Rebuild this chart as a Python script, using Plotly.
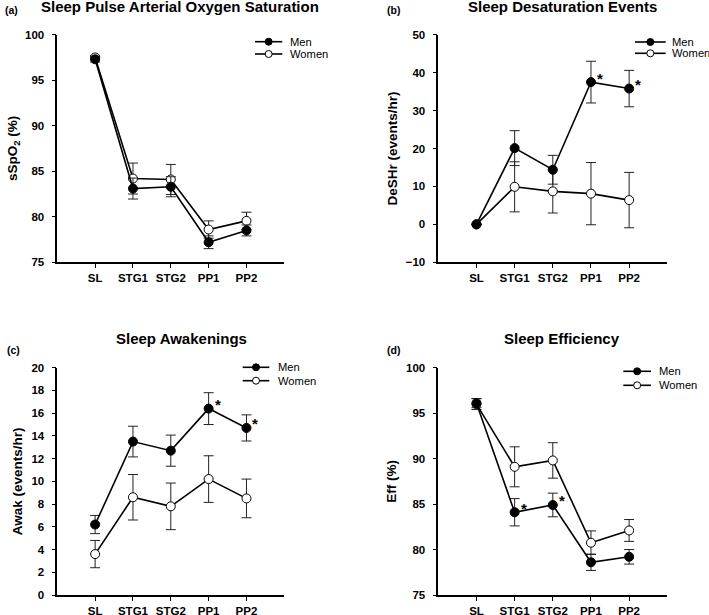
import plotly.graph_objects as go

W, H = 709, 615

stages = ["SL", "STG1", "STG2", "PP1", "PP2"]

# (a) Sleep pulse arterial oxygen saturation (%)
spo2_men = [97.3, 83.1, 83.3, 77.2, 78.5]
spo2_men_se = [0.3, 1.15, 1.1, 0.7, 0.6]
spo2_women = [97.5, 84.2, 84.1, 78.6, 79.55]
spo2_women_se = [0.2, 1.7, 1.65, 0.95, 0.95]
spo2_sig = []

# (b) Sleep desaturation events (events/hr)
deshr_men = [0.0, 20.1, 14.4, 37.5, 35.8]
deshr_men_se = [0.0, 4.6, 3.8, 5.5, 4.8]
deshr_women = [0.0, 9.9, 8.7, 8.1, 6.4]
deshr_women_se = [0.0, 6.6, 5.7, 8.2, 7.3]
deshr_sig = ["PP1", "PP2"]

# (c) Sleep awakenings (events/hr)
awak_men = [6.2, 13.5, 12.7, 16.4, 14.7]
awak_men_se = [0.8, 1.35, 1.37, 1.4, 1.15]
awak_women = [3.6, 8.6, 7.8, 10.2, 8.5]
awak_women_se = [1.2, 2.0, 2.05, 2.05, 1.7]
awak_sig = ["PP1", "PP2"]

# (d) Sleep efficiency (%)
eff_men = [96.1, 84.1, 84.9, 78.6, 79.2]
eff_men_se = [0.5, 1.5, 1.3, 0.9, 0.8]
eff_women = [96.0, 89.1, 89.8, 80.75, 82.1]
eff_women_se = [0.6, 2.2, 1.95, 1.3, 1.2]
eff_sig = ["STG1", "STG2"]

FONT = "Liberation Sans, Arial, sans-serif"


def px(x):
    return x / W


def py(y):
    return 1 - y / H


panels = [
    dict(label="(a)", title="Sleep Pulse Arterial Oxygen Saturation",
         ytitle="sSpO<sub>2</sub> (%)", men=spo2_men, men_se=spo2_men_se,
         women=spo2_women, women_se=spo2_women_se, sig=spo2_sig,
         yrange=[75, 100], dtick=5,
         xdom=(57.3, 284.3), ydom=(262.3, 34.7), standoff=4,
         title_xy=(180, 7), label_xy=(11, 10),
         leg=(255, 282.3, 288.3, 41.7, 54.0)),
    dict(label="(b)", title="Sleep Desaturation Events",
         ytitle="DeSHr (events/hr)", men=deshr_men, men_se=deshr_men_se,
         women=deshr_women, women_se=deshr_women_se, sig=deshr_sig,
         yrange=[-10, 50], dtick=10,
         xdom=(438.3, 667.3), ydom=(262.3, 34.7), standoff=5,
         title_xy=(562, 7), label_xy=(393, 10),
         leg=(635, 665.7, 670, 42.0, 53.3)),
    dict(label="(c)", title="Sleep Awakenings",
         ytitle="Awak (events/hr)", men=awak_men, men_se=awak_men_se,
         women=awak_women, women_se=awak_women_se, sig=awak_sig,
         yrange=[0, 20], dtick=2,
         xdom=(57.3, 284.3), ydom=(595, 367.7), standoff=6,
         title_xy=(181, 338), label_xy=(13, 350),
         leg=(242.7, 269.3, 276, 367.3, 380.7)),
    dict(label="(d)", title="Sleep Efficiency",
         ytitle="Eff (%)", men=eff_men, men_se=eff_men_se,
         women=eff_women, women_se=eff_women_se, sig=eff_sig,
         yrange=[75, 100], dtick=5,
         xdom=(438.3, 667.3), ydom=(595, 367.7), standoff=6,
         title_xy=(562, 338), label_xy=(393, 350),
         leg=(623.3, 651, 656.7, 371.3, 385.3)),
]

fig = go.Figure()
annotations = []
shapes = []
layout = {}

for i, p in enumerate(panels, start=1):
    xa = "x" if i == 1 else f"x{i}"
    ya = "y" if i == 1 else f"y{i}"
    xkey = "xaxis" if i == 1 else f"xaxis{i}"
    ykey = "yaxis" if i == 1 else f"yaxis{i}"

    for name, vals, se, fill in [("Women", p["women"], p["women_se"], "white"),
                                 ("Men", p["men"], p["men_se"], "black")]:
        fig.add_trace(go.Scatter(
            x=stages, y=vals, xaxis=xa, yaxis=ya, name=name,
            mode="lines+markers", showlegend=False, cliponaxis=False,
            line=dict(color="black", width=1.6),
            marker=dict(symbol="circle", size=9, color=fill,
                        line=dict(color="black", width=1)),
            error_y=dict(type="data", array=se, visible=True,
                         color="#222222", thickness=1, width=5),
        ))

    layout[xkey] = dict(
        domain=[px(p["xdom"][0]), px(p["xdom"][1])], anchor=ya,
        type="category", categoryorder="array", categoryarray=stages,
        range=[-1, 5], showline=True, linecolor="black", linewidth=1.5,
        ticks="outside", ticklen=4, tickwidth=1, tickcolor="black",
        showgrid=False, zeroline=False,
        tickfont=dict(family=FONT, size=11.5, color="black", weight="bold"),
    )
    layout[ykey] = dict(
        domain=[py(p["ydom"][0]), py(p["ydom"][1])], anchor=xa,
        range=p["yrange"], dtick=p["dtick"], tick0=0,
        showline=True, linecolor="black", linewidth=1.5,
        ticks="outside", ticklen=4, tickwidth=1, tickcolor="black",
        ticklabelstandoff=5,
        showgrid=False, zeroline=False,
        tickfont=dict(family=FONT, size=11.5, color="black", weight="bold"),
        title=dict(text=p["ytitle"], standoff=p["standoff"],
                   font=dict(family=FONT, size=13.5, color="black", weight="bold")),
    )

    # panel title and label
    annotations.append(dict(
        text=p["title"], xref="paper", yref="paper",
        x=px(p["title_xy"][0]), y=py(p["title_xy"][1]),
        xanchor="center", yanchor="middle", showarrow=False,
        font=dict(family=FONT, size=15, color="black", weight="bold")))
    annotations.append(dict(
        text=p["label"], xref="paper", yref="paper",
        x=px(p["label_xy"][0]), y=py(p["label_xy"][1]),
        xanchor="center", yanchor="middle", showarrow=False,
        font=dict(family=FONT, size=10.5, color="black", weight="bold")))

    # significance asterisks next to the men's points
    for s in p["sig"]:
        k = stages.index(s)
        annotations.append(dict(
            text="*", xref=xa, yref=ya, x=k, y=p["men"][k],
            xanchor="center", yanchor="middle", showarrow=False,
            xshift=9, yshift=4,
            font=dict(family=FONT, size=15, color="black", weight="bold")))

    # legend
    lx0, lx1, tx, ym, yw = p["leg"]
    for yy, fill, name in [(ym, "black", "Men"), (yw, "white", "Women")]:
        shapes.append(dict(type="line", xref="paper", yref="paper",
                           x0=px(lx0), x1=px(lx1), y0=py(yy), y1=py(yy),
                           line=dict(color="black", width=1.6)))
        cx = px((lx0 + lx1) / 2)
        shapes.append(dict(type="circle", xref="paper", yref="paper",
                           xsizemode="pixel", ysizemode="pixel",
                           xanchor=cx, yanchor=py(yy),
                           x0=-3.5, x1=3.5, y0=-3.5, y1=3.5,
                           fillcolor=fill, line=dict(color="black", width=1)))
        annotations.append(dict(
            text=name, xref="paper", yref="paper", x=px(tx), y=py(yy),
            xanchor="left", yanchor="middle", showarrow=False,
            font=dict(family=FONT, size=11.2, color="black")))

fig.update_layout(
    width=W, height=H, autosize=False,
    margin=dict(l=0, r=0, t=0, b=0, autoexpand=False),
    paper_bgcolor="white", plot_bgcolor="white",
    showlegend=False,
    annotations=annotations, shapes=shapes,
    **layout,
)

fig.write_html(
    "out.html",
    config={"displayModeBar": False},
    post_script="document.body.style.margin='0';document.body.style.padding='0';",
)
